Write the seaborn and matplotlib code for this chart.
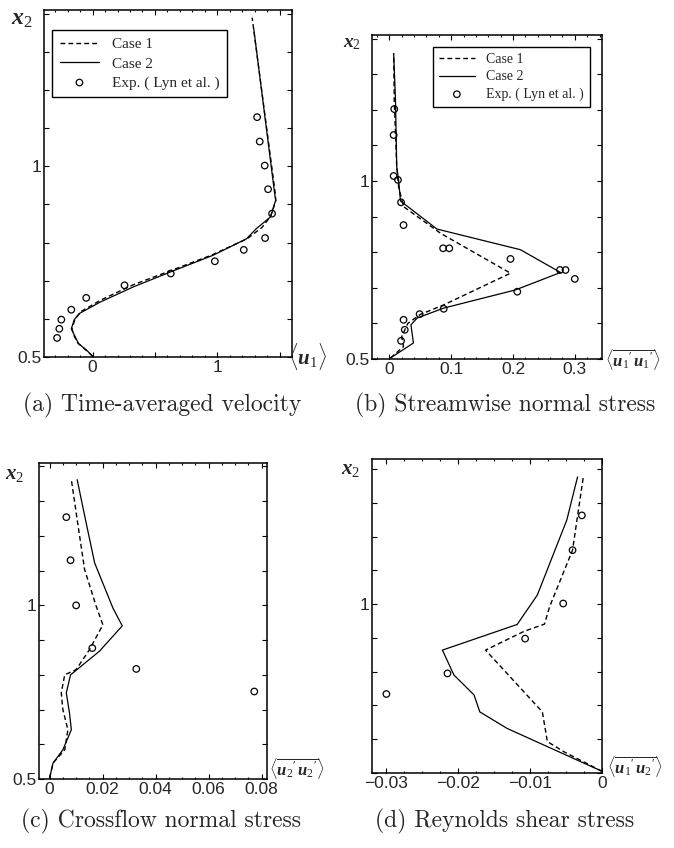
import matplotlib
matplotlib.use('Agg')
import matplotlib.pyplot as plt
import seaborn as sns
import numpy as np
from matplotlib.ticker import MultipleLocator

# (a) time-averaged velocity <u1> vs x2
a_case1_v = [0, -0.05, -0.12, -0.155, -0.165, -0.14, -0.09, 0.07, 0.33, 0.64, 0.96, 1.24, 1.36, 1.43, 1.47, 1.465, 1.28]
a_case1_x = [0.502, 0.517, 0.537, 0.56, 0.575, 0.6, 0.62, 0.65, 0.69, 0.728, 0.768, 0.81, 0.84, 0.87, 0.91, 0.93, 1.39]
a_case2_v = [0, -0.045, -0.112, -0.152, -0.171, -0.147, -0.107, 0.061, 0.328, 0.648, 0.968, 1.235, 1.315, 1.427, 1.469, 1.461, 1.293]
a_case2_x = [0.502, 0.517, 0.535, 0.561, 0.574, 0.598, 0.614, 0.644, 0.684, 0.726, 0.767, 0.81, 0.837, 0.867, 0.911, 0.928, 1.361]
a_exp_v = [-0.285, -0.267, -0.251, -0.171, -0.051, 0.256, 0.627, 0.981, 1.213, 1.384, 1.44, 1.408, 1.381, 1.341, 1.32]
a_exp_x = [0.55, 0.574, 0.598, 0.624, 0.655, 0.688, 0.719, 0.751, 0.781, 0.812, 0.876, 0.94, 1.002, 1.065, 1.129]

# (b) streamwise normal stress
b_case1_v = [0.002, 0.023, 0.02, 0.03, 0.05, 0.088, 0.196, 0.083, 0.023, 0.015, 0.012, 0.008, 0.007]
b_case1_x = [0.503, 0.535, 0.563, 0.6, 0.625, 0.652, 0.741, 0.853, 0.928, 0.984, 1.04, 1.227, 1.358]
b_case2_v = [0.002, 0.039, 0.035, 0.045, 0.088, 0.204, 0.277, 0.212, 0.077, 0.018, 0.015, 0.012, 0.01, 0.007]
b_case2_x = [0.503, 0.545, 0.596, 0.615, 0.643, 0.694, 0.743, 0.807, 0.865, 0.944, 1.003, 1.04, 1.227, 1.358]
b_exp_v = [0.008, 0.007, 0.007, 0.014, 0.019, 0.023, 0.087, 0.097, 0.196, 0.276, 0.285, 0.3, 0.207, 0.088, 0.049, 0.023, 0.025, 0.019]
b_exp_x = [1.202, 1.129, 1.014, 1.003, 0.94, 0.876, 0.811, 0.811, 0.781, 0.75, 0.75, 0.725, 0.689, 0.641, 0.626, 0.61, 0.582, 0.551]

# (c) crossflow normal stress
c_case1_v = [0, 0.0013, 0.0057, 0.0069, 0.005, 0.0044, 0.0057, 0.01, 0.015, 0.0201, 0.0176, 0.0132, 0.0104, 0.0082]
c_case1_x = [0.503, 0.546, 0.584, 0.642, 0.70, 0.748, 0.80, 0.815, 0.872, 0.944, 0.997, 1.103, 1.247, 1.362]
c_case2_v = [0, 0.0013, 0.005, 0.0082, 0.0075, 0.0063, 0.0079, 0.0188, 0.0274, 0.0239, 0.017, 0.0138, 0.0104]
c_case2_x = [0.503, 0.546, 0.584, 0.642, 0.69, 0.748, 0.80, 0.868, 0.941, 0.992, 1.122, 1.237, 1.362]
c_exp_v = [0.0063, 0.0079, 0.0100, 0.0161, 0.0327, 0.0772]
c_exp_x = [1.254, 1.130, 1.0, 0.877, 0.817, 0.752]

# (d) Reynolds shear stress
d_case1_v = [0, -0.0053, -0.0076, -0.0083, -0.0162, -0.0108, -0.008, -0.0073, -0.0041, -0.0026]
d_case1_x = [0.505, 0.563, 0.593, 0.681, 0.864, 0.92, 0.941, 0.992, 1.16, 1.377]
d_case2_v = [0, -0.0132, -0.017, -0.0178, -0.0194, -0.0206, -0.0222, -0.0118, -0.009, -0.0049, -0.0034]
d_case2_x = [0.505, 0.632, 0.681, 0.731, 0.765, 0.79, 0.864, 0.94, 1.027, 1.249, 1.377]
d_exp_v = [-0.0028, -0.0041, -0.0054, -0.0107, -0.0215, -0.030]
d_exp_x = [1.263, 1.160, 1.002, 0.898, 0.795, 0.734]

x_ticks = {
    'a': ([0, 0.5, 1, 1.5], ['0', '', '1', '']),
    'b': ([0, 0.1, 0.2, 0.3], ['0', '0.1', '0.2', '0.3']),
    'c': ([0, 0.02, 0.04, 0.06, 0.08], ['0', '0.02', '0.04', '0.06', '0.08']),
    'd': ([-0.03, -0.02, -0.01, 0], ['\u22120.03', '\u22120.02', '\u22120.01', '0']),
}
y_ticks = [0.5, 0.6, 0.7, 0.8, 0.9, 1.0, 1.1, 1.2, 1.3, 1.4]
y_labels = ['0.5', '', '', '', '', '1', '', '', '', '']
y_labels_d = ['', '', '', '', '', '1', '', '', '', '']

captions = ['(a) Time-averaged velocity', '(b) Streamwise normal stress',
            '(c) Crossflow normal stress', '(d) Reynolds shear stress']
qty_labels = [r'$\langle u_1\rangle$', r"$\langle\overline{u_1{}'\,u_1{}'}\rangle$",
              r"$\langle\overline{u_2{}'\,u_2{}'}\rangle$", r"$\langle\overline{u_1{}'\,u_2{}'}\rangle$"]

sns.set_style('ticks')
plt.rcParams['font.family'] = ['Liberation Sans Narrow', 'Liberation Sans', 'DejaVu Sans']
plt.rcParams['mathtext.fontset'] = 'custom'
plt.rcParams['mathtext.it'] = 'Liberation Serif:italic:bold'
plt.rcParams['mathtext.rm'] = 'Liberation Serif'
plt.rcParams['mathtext.bf'] = 'Liberation Serif:bold'

fig = plt.figure(figsize=(6.74, 8.48), dpi=100)
W, H = 674, 848


def add_axes(left, top, right, bottom):
    return fig.add_axes([left / W, 1 - bottom / H, (right - left) / W, (bottom - top) / H])


axes = {
    'a': add_axes(44, 10, 292, 357),
    'b': add_axes(372, 35, 602, 359),
    'c': add_axes(39, 463, 267, 779),
    'd': add_axes(372, 459, 602, 773),
}
xlims = {'a': (-0.39, 1.6), 'b': (-0.028, 0.344), 'c': (-0.004, 0.082), 'd': (-0.032, 0.0)}
ylims = {'a': (0.5, 1.41), 'b': (0.5, 1.41), 'c': (0.5, 1.41), 'd': (0.5, 1.43)}
minor = {'a': 0.1, 'b': 0.02, 'c': 0.005, 'd': 0.0025}

series = {
    'a': (a_case1_v, a_case1_x, a_case2_v, a_case2_x, a_exp_v, a_exp_x),
    'b': (b_case1_v, b_case1_x, b_case2_v, b_case2_x, b_exp_v, b_exp_x),
    'c': (c_case1_v, c_case1_x, c_case2_v, c_case2_x, c_exp_v, c_exp_x),
    'd': (d_case1_v, d_case1_x, d_case2_v, d_case2_x, d_exp_v, d_exp_x),
}

for key, ax in axes.items():
    c1v, c1x, c2v, c2x, ev, ex = series[key]
    with_legend = key in ('a', 'b')
    sns.lineplot(x=c1v, y=c1x, sort=False, estimator=None, color='k', lw=1.0,
                 linestyle=(0, (3.5, 2.2)), ax=ax, label='Case 1' if with_legend else None)
    sns.lineplot(x=c2v, y=c2x, sort=False, estimator=None, color='k', lw=0.9,
                 ax=ax, label='Case 2' if with_legend else None)
    sns.scatterplot(x=ev, y=ex, marker='o', s=22, facecolor='none', edgecolor='k',
                    linewidth=0.9, ax=ax, zorder=3,
                    label='Exp. ( Lyn et al. )' if with_legend else None)
    ax.set_xlim(*xlims[key])
    ax.set_ylim(*ylims[key])
    ticks, labels = x_ticks[key]
    ax.set_xticks(ticks, labels)
    ax.set_yticks(y_ticks, y_labels_d if key == 'd' else y_labels)
    ax.xaxis.set_minor_locator(MultipleLocator(minor[key]))
    ax.tick_params(which='both', direction='in', top=True, right=True,
                   labelsize=12.5, width=0.8, color='k', pad=2)
    ax.tick_params(which='major', length=3.5)
    ax.tick_params(which='minor', length=1.2)
    for sp in ax.spines.values():
        sp.set_linewidth(1.1)
        sp.set_color('k')
    ax.set_xlabel('')
    ax.set_ylabel('')
    if with_legend:
        ax.legend_.remove()

leg_a = axes['a'].legend(loc='upper left', bbox_to_anchor=(0.032, 0.942), borderaxespad=0,
                         frameon=True, fancybox=False, framealpha=1, edgecolor='k',
                         prop={'family': 'Liberation Serif', 'size': 11}, handlelength=2.6,
                         labelspacing=0.35, borderpad=0.5)
leg_a.get_frame().set_linewidth(1.0)
leg_b = axes['b'].legend(loc='upper right', bbox_to_anchor=(0.948, 0.963), borderaxespad=0,
                         frameon=True, fancybox=False, framealpha=1, edgecolor='k',
                         prop={'family': 'Liberation Serif', 'size': 10}, handlelength=2.6,
                         labelspacing=0.3, borderpad=0.45)
leg_b.get_frame().set_linewidth(1.0)

# x2 axis labels
for (px, py, size) in [(22, 19, 17), (352, 44, 14), (15, 475, 15), (351, 470, 15)]:
    fig.text(px / W, 1 - py / H, r'$x_2$', ha='center', va='center', fontsize=size)

# quantity labels at the right end of the abscissa
for (px, py, size), lab in zip([(308, 357, 15), (633, 360, 12), (297, 769, 12), (635, 767, 12)], qty_labels):
    fig.text(px / W, 1 - py / H, lab, ha='center', va='center', fontsize=size)

# captions
for (px, py), cap in zip([(162, 405), (505, 405), (161, 821), (505, 821)], captions):
    fig.text(px / W, 1 - py / H, cap, ha='center', va='center', fontsize=17, family='cmr10')

fig.savefig('out.png', dpi=100)
